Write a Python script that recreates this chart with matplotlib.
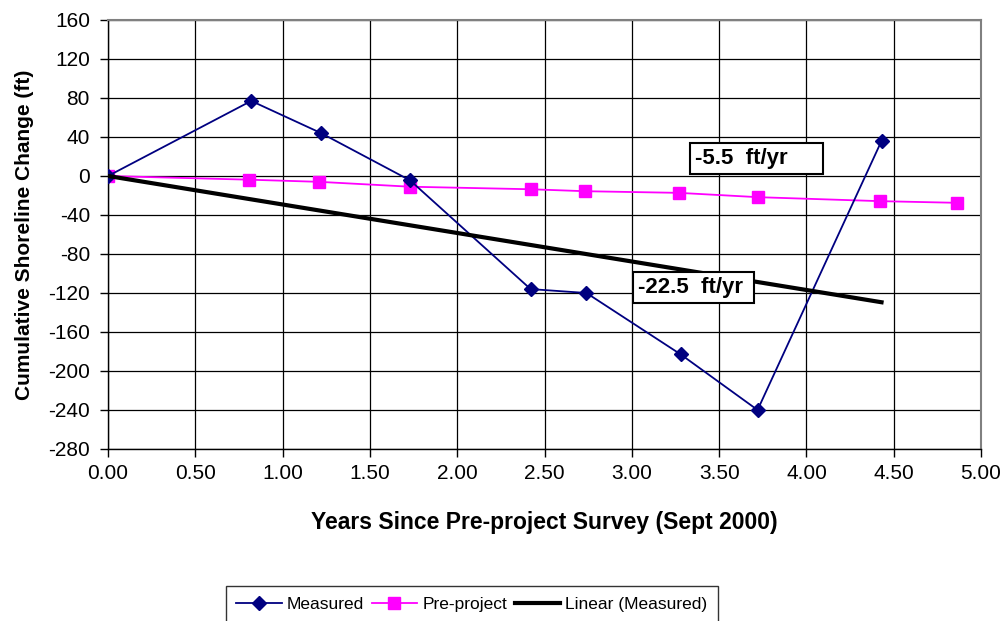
import numpy as np
import matplotlib
matplotlib.use('Agg')
import matplotlib.pyplot as plt

plt.rcParams['font.family'] = ['Liberation Sans', 'DejaVu Sans']
plt.rcParams['axes.unicode_minus'] = False

# Data
years = [0.0, 0.82, 1.22, 1.73, 2.42, 2.74, 3.28, 3.72, 4.43]
measured = [0, 77, 44, -4.5, -116, -120, -183, -240, 36]
pre_years = [0.0, 0.81, 1.21, 1.73, 2.42, 2.73, 3.27, 3.72, 4.42, 4.86]
pre_project = [0, -3.8, -6, -11, -13.6, -15.6, -17.3, -21.7, -25.8, -27.5]

# Linear trendline through origin (Excel trendline with intercept = 0)
x = np.array(years)
y = np.array(measured)
slope = np.sum(x * y) / np.sum(x * x)
trend_x = np.array([0.0, x.max()])
trend_y = slope * trend_x

fig = plt.figure(figsize=(10.06, 6.21), dpi=100)
ax = fig.add_axes([0.1074, 0.277, 0.8678, 0.6908])

ax.plot(years, measured, color='#000080', lw=1.3, marker='D', ms=7,
        label='Measured', zorder=4)
ax.plot(pre_years, pre_project, color='#FF00FF', lw=1.3, marker='s', ms=8,
        label='Pre-project', zorder=3)
ax.plot(trend_x, trend_y, color='black', lw=3, label='Linear (Measured)',
        zorder=5)

ax.set_xlim(0, 5)
ax.set_ylim(-280, 160)
ax.set_xticks(np.arange(0, 5.01, 0.5))
ax.set_yticks(np.arange(-280, 161, 40))
ax.set_xticklabels([f'{v:.2f}' for v in np.arange(0, 5.01, 0.5)])
ax.tick_params(labelsize=15, length=6, width=1, direction='out')
ax.tick_params(axis='y', pad=7)
ax.tick_params(axis='x', pad=5)
ax.grid(True, color='black', lw=0.9)
ax.set_axisbelow(True)
for s in ['top', 'right']:
    ax.spines[s].set_color('#808080')
    ax.spines[s].set_linewidth(1.5)
for s in ['left', 'bottom']:
    ax.spines[s].set_color('black')
    ax.spines[s].set_linewidth(1)

ax.set_xlabel('Years Since Pre-project Survey (Sept 2000)', fontsize=16.5,
              fontweight='bold', labelpad=20)
ax.set_ylabel('Cumulative Shoreline Change (ft)', fontsize=15,
              fontweight='bold', labelpad=10.5)

box = dict(boxstyle='square,pad=0.22', fc='white', ec='black', lw=1.5)
ax.text(3.36, 18, '-5.5  ft/yr     ', fontsize=16, fontweight='bold',
        ha='left', va='center', bbox=box, zorder=6)
ax.text(3.035, -114.5, '-22.5  ft/yr ', fontsize=16, fontweight='bold',
        ha='left', va='center', bbox=box, zorder=6)

fig.legend(loc='center', bbox_to_anchor=(0.469, 0.027), ncol=3,
           fontsize=12.5, frameon=True, fancybox=False, edgecolor='black',
           borderpad=0.6, handlelength=2.6, handletextpad=0.3,
           columnspacing=0.45)

fig.savefig('out.png', dpi=100)
